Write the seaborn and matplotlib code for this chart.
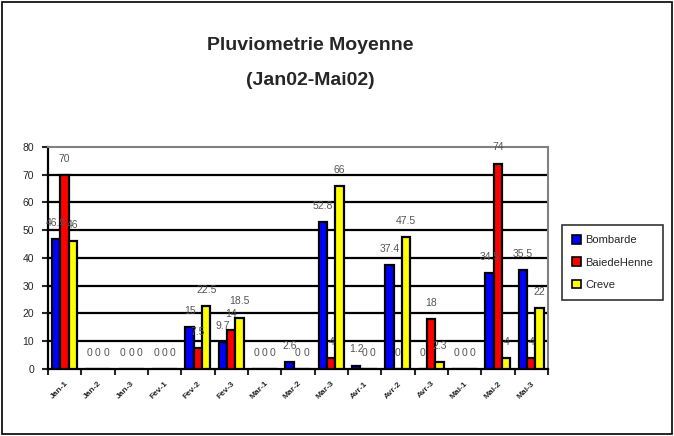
import pandas as pd
import numpy as np
import matplotlib
matplotlib.use('Agg')
import matplotlib.pyplot as plt
import seaborn as sns
from matplotlib.patches import Rectangle, Patch

# Data (mm)
decades = ['Jan-1', 'Jan-2', 'Jan-3', 'Fev-1', 'Fev-2', 'Fev-3', 'Mar-1', 'Mar-2',
           'Mar-3', 'Avr-1', 'Avr-2', 'Avr-3', 'Mai-1', 'Mai-2', 'Mai-3']
stations = ['Bombarde', 'BaiedeHenne', 'Creve']
bombarde = [46.9, 0, 0, 0, 15, 9.7, 0, 2.6, 52.8, 1.2, 37.4, 0, 0, 34.5, 35.5]
baiedehenne = [70, 0, 0, 0, 7.5, 14, 0, 0, 4, 0, 0, 18, 0, 74, 4]
creve = [46, 0, 0, 0, 22.5, 18.5, 0, 0, 66, 0, 47.5, 2.3, 0, 4, 22]
colors = ['#0000ff', '#ff0000', '#ffff00']

df = pd.DataFrame({'decade': decades * 3,
                   'station': np.repeat(stations, len(decades)),
                   'pluie': bombarde + baiedehenne + creve})

sns.set_style('white')
plt.rcParams['font.family'] = ['Liberation Sans', 'DejaVu Sans']

fig = plt.figure(figsize=(6.74, 4.36), dpi=100)
ax = fig.add_axes([0.071, 0.154, 0.742, 0.509])

sns.barplot(data=df, x='decade', y='pluie', hue='station', palette=colors,
            order=decades, hue_order=stations, width=0.75, edgecolor='black',
            linewidth=1.6, saturation=1, legend=False, ax=ax, zorder=3)

# data labels above each bar (grey, like excel)
for cont in ax.containers:
    labels = ['{:g}'.format(v) for v in cont.datavalues]
    ax.bar_label(cont, labels=labels, padding=8, fontsize=7.5, color='#555555')

ax.set_ylim(0, 80)
ax.set_yticks(range(0, 81, 10))
for y in ax.get_yticks()[1:-1]:
    ax.axhline(y, color='black', lw=1.6, zorder=1)

# ticks between categories, labels centred under them
n = len(decades)
ax.set_xticks(np.arange(n))
ax.set_xticklabels(decades, rotation=45, ha='right', rotation_mode='anchor',
                   fontweight='bold', fontsize=6)
ax.set_xticks(np.arange(n + 1) - 0.5, minor=True)
ax.tick_params(axis='x', which='major', length=0, pad=8)
ax.tick_params(axis='x', which='minor', length=4, width=1.5, direction='out', bottom=True)
ax.tick_params(axis='y', labelsize=7.5, length=4, width=1.5, direction='out', left=True, pad=6)
ax.set_xlim(-0.5, n - 0.5)
ax.set_xlabel('')
ax.set_ylabel('')

for side in ['left', 'bottom']:
    ax.spines[side].set_color('black')
    ax.spines[side].set_linewidth(1.6)
for side in ['top', 'right']:
    ax.spines[side].set_color('#808080')
    ax.spines[side].set_linewidth(1.5)

handles = [Patch(facecolor=c, edgecolor='black', linewidth=1.2) for c in colors]
leg = fig.legend(handles, stations, loc='center', bbox_to_anchor=(0.909, 0.398),
                 fontsize=8, frameon=True, fancybox=False, edgecolor='black',
                 handlelength=0.8, handleheight=0.8, handletextpad=0.4,
                 labelspacing=1.1, borderpad=0.9)
leg.get_frame().set_linewidth(1.2)

fig.text(0.46, 0.895, 'Pluviometrie Moyenne', ha='center', va='center',
         fontsize=14, fontweight='bold')
fig.text(0.46, 0.815, '(Jan02-Mai02)', ha='center', va='center',
         fontsize=14, fontweight='bold')

fig.patches.append(Rectangle((0.003, 0.005), 0.994, 0.99, transform=fig.transFigure,
                             fill=False, edgecolor='black', linewidth=1.2))

fig.savefig('out.png', dpi=100)
